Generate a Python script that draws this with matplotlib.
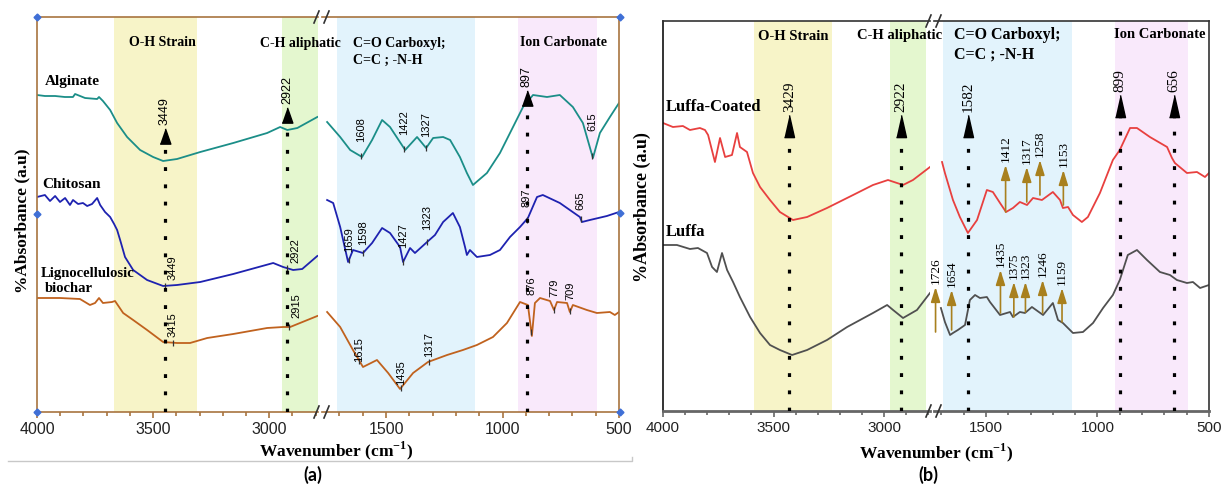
import numpy as np
import matplotlib
matplotlib.use("Agg")
import matplotlib.pyplot as plt
from matplotlib.ticker import MultipleLocator
from matplotlib.lines import Line2D

plt.rcParams["mathtext.fontset"] = "custom"
plt.rcParams["mathtext.rm"] = "Liberation Serif:bold"
plt.rcParams["mathtext.bf"] = "Liberation Serif:bold"

SERIF = "Liberation Serif"
SANS = "Liberation Sans"

W, H = 1222, 484

# ---------------- panel (a) : FTIR spectra ----------------
alg_hi_wn = [4000, 3966, 3922, 3880, 3845, 3836, 3793, 3741, 3733, 3716, 3685, 3655, 3612,
             3556, 3500, 3457, 3397, 3297, 3155, 3009, 2953, 2922, 2879, 2793]
alg_hi_ab = [3.17, 3.16, 3.16, 3.15, 3.15, 3.18, 3.14, 3.13, 3.15, 3.11, 3.02, 2.89, 2.75,
             2.62, 2.55, 2.51, 2.53, 2.60, 2.69, 2.79, 2.85, 2.82, 2.84, 2.95]
alg_lo_wn = [1753, 1697, 1654, 1603, 1560, 1517, 1483, 1418, 1367, 1328, 1298, 1255, 1225,
             1183, 1153, 1127, 1067, 1011, 955, 912, 869, 809, 754, 698, 655, 612, 582, 539, 500]
alg_lo_ab = [2.90, 2.75, 2.62, 2.55, 2.72, 2.92, 2.85, 2.62, 2.75, 2.64, 2.74, 2.75, 2.72,
             2.55, 2.39, 2.27, 2.39, 2.59, 2.85, 3.05, 3.17, 3.15, 3.17, 3.05, 2.89, 2.54, 2.79, 2.95, 3.09]

chi_hi_wn = [4000, 3966, 3944, 3922, 3901, 3879, 3858, 3845, 3823, 3802, 3784, 3763, 3741,
             3728, 3707, 3685, 3668, 3655, 3642, 3621, 3586, 3526, 3457, 3397, 3297, 3155,
             2983, 2940, 2897, 2858, 2793]
chi_hi_ab = [2.15, 2.17, 2.11, 2.16, 2.10, 2.14, 2.07, 2.12, 2.08, 2.09, 2.06, 2.08, 2.14,
             2.07, 2.00, 1.95, 1.88, 1.82, 1.72, 1.55, 1.42, 1.32, 1.26, 1.27, 1.30, 1.38,
             1.49, 1.45, 1.42, 1.43, 1.56]
chi_lo_wn = [1753, 1727, 1697, 1663, 1642, 1599, 1560, 1517, 1483, 1440, 1427, 1397, 1376,
             1324, 1290, 1255, 1213, 1183, 1161, 1153, 1140, 1110, 1054, 1011, 968, 925, 891,
             852, 827, 754, 668, 659, 625, 552, 500]
chi_lo_ab = [2.12, 2.09, 1.85, 1.50, 1.62, 1.59, 1.69, 1.84, 1.79, 1.65, 1.50, 1.64, 1.59,
             1.70, 1.77, 1.90, 1.99, 1.85, 1.65, 1.57, 1.62, 1.55, 1.57, 1.62, 1.75, 1.85, 1.94,
             2.15, 2.17, 2.09, 1.95, 1.90, 1.92, 1.96, 2.00]

bio_hi_wn = [4000, 3901, 3815, 3772, 3750, 3733, 3716, 3677, 3664, 3629, 3586, 3526, 3457,
             3397, 3341, 3267, 3155, 3009, 2940, 2910, 2793]
bio_hi_ab = [1.14, 1.14, 1.13, 1.07, 1.09, 1.14, 1.09, 1.10, 1.11, 0.99, 0.92, 0.82, 0.70,
             0.69, 0.69, 0.74, 0.78, 0.84, 0.85, 0.85, 0.96]
bio_lo_wn = [1753, 1697, 1642, 1599, 1539, 1491, 1440, 1384, 1320, 1238, 1170, 1110, 1041,
             981, 925, 891, 874, 861, 839, 796, 779, 766, 723, 711, 698, 638, 595, 539, 518, 500]
bio_lo_ab = [1.00, 0.85, 0.62, 0.45, 0.52, 0.39, 0.23, 0.39, 0.50, 0.57, 0.62, 0.67, 0.75,
             0.89, 1.10, 1.07, 0.76, 1.09, 1.14, 1.11, 1.02, 1.10, 1.09, 1.00, 1.07, 1.02, 0.99,
             1.00, 0.97, 1.00]

alg_pk_wn = [1608, 1422, 1327, 615]
alg_pk_lab = [2.70, 2.77, 2.75, 2.81]
chi_pk_wn = [3449, 2922, 1659, 1598, 1427, 1323, 897, 665]
chi_pk_lab = [1.32, 1.49, 1.60, 1.67, 1.64, 1.82, 2.05, 2.02]
bio_pk_wn = [3415, 2915, 1615, 1435, 1317, 876, 779, 709]
bio_pk_lab = [0.75, 0.94, 0.50, 0.27, 0.55, 1.17, 1.15, 1.12]

a_big_wn = [3449, 2922, 897]
a_big_tip = [2.84, 3.05, 3.22]

# ---------------- panel (b) : luffa spectra ----------------
lc_hi_wn = [4000, 3955, 3910, 3878, 3833, 3810, 3796, 3765, 3742, 3719, 3688, 3665, 3652,
            3620, 3593, 3561, 3516, 3471, 3412, 3348, 3258, 3140, 3050, 2982, 2914, 2869, 2792]
lc_hi_ab = [2.88, 2.84, 2.85, 2.81, 2.83, 2.81, 2.76, 2.49, 2.73, 2.54, 2.56, 2.78, 2.64,
            2.59, 2.38, 2.24, 2.11, 1.99, 1.91, 1.94, 2.03, 2.16, 2.26, 2.31, 2.26, 2.31, 2.44]
lc_lo_wn = [1697, 1684, 1648, 1617, 1581, 1540, 1496, 1469, 1437, 1410, 1379, 1348, 1316,
            1289, 1249, 1200, 1168, 1155, 1132, 1110, 1070, 1043, 989, 931, 900, 854, 823,
            765, 688, 666, 653, 599, 554, 518, 500]
lc_lo_ab = [2.49, 2.38, 2.11, 1.94, 1.78, 1.91, 2.21, 2.19, 2.08, 1.99, 2.03, 2.09, 2.06,
            2.13, 2.11, 2.19, 2.11, 2.03, 2.04, 1.96, 1.89, 1.94, 2.18, 2.51, 2.61, 2.83, 2.83,
            2.74, 2.64, 2.53, 2.48, 2.38, 2.39, 2.34, 2.38]

lf_hi_wn = [4000, 3937, 3878, 3842, 3801, 3778, 3756, 3733, 3710, 3683, 3652, 3606, 3561,
            3516, 3471, 3416, 3348, 3258, 3167, 3050, 2986, 2959, 2914, 2851, 2792]
lf_hi_ab = [1.66, 1.66, 1.62, 1.63, 1.58, 1.44, 1.39, 1.58, 1.41, 1.29, 1.14, 0.94, 0.78,
            0.66, 0.61, 0.56, 0.61, 0.71, 0.84, 0.98, 1.06, 1.01, 0.93, 1.01, 1.18]
lf_lo_wn = [1702, 1684, 1661, 1648, 1626, 1594, 1572, 1549, 1527, 1496, 1482, 1437, 1392,
            1379, 1348, 1325, 1294, 1244, 1200, 1177, 1155, 1110, 1065, 1020, 975, 931, 900,
            864, 823, 778, 720, 675, 644, 599, 572, 540, 500]
lf_lo_ab = [1.03, 0.89, 0.76, 0.78, 0.81, 0.86, 1.11, 1.16, 1.13, 1.14, 1.09, 0.96, 0.99,
            0.94, 0.99, 0.98, 1.04, 0.96, 1.08, 0.91, 0.88, 0.78, 0.79, 0.88, 1.03, 1.16, 1.31,
            1.56, 1.61, 1.51, 1.39, 1.36, 1.31, 1.28, 1.29, 1.23, 1.26]

b_big_wn = [3429, 2922, 1582, 899, 656]
b_big_tip = [2.96, 2.96, 2.96, 3.16, 3.16]

lc_arr_wn = [1412, 1317, 1258, 1153]
lc_arr_base = [1.99, 2.09, 2.16, 2.06]
lc_arr_tip = [2.46, 2.44, 2.51, 2.41]
lf_arr_wn = [1726, 1654, 1435, 1375, 1323, 1246, 1159]
lf_arr_base = [0.79, 0.81, 0.98, 0.94, 0.99, 0.98, 0.89]
lf_arr_tip = [1.24, 1.21, 1.41, 1.29, 1.29, 1.31, 1.23]

YELLOW, GREEN, BLUE, PINK = "#F7F4C8", "#E4F7CF", "#E2F3FC", "#F9E9FB"
a_bands_hi = [(3668, 3310, YELLOW), (2944, 2700, GREEN)]
a_bands_lo = [(1710, 1118, BLUE), (934, 595, PINK)]
b_bands_hi = [(3588, 3235, YELLOW), (2973, 2810, GREEN)]
b_bands_lo = [(1693, 1114, BLUE), (922, 594, PINK)]


def fx(px):
    return px / W


def fy(py):
    return 1 - py / H


fig = plt.figure(figsize=(W / 100, H / 100), dpi=100)


def seg_axes(x0, x1, ytop, ybot, xlim, ylim, ticks, side, scol, lblsize):
    ax = fig.add_axes([fx(x0), fy(ybot), (x1 - x0) / W, (ybot - ytop) / H])
    ax.set_xlim(*xlim)
    ax.set_ylim(*ylim)
    ax.set_yticks([])
    ax.set_xticks(ticks)
    ax.xaxis.set_minor_locator(MultipleLocator(100))
    ax.tick_params(axis="x", which="major", direction="out", length=4, width=1.2,
                   color=scol, labelsize=lblsize, labelcolor="#222", pad=3)
    ax.tick_params(axis="x", which="minor", direction="out", length=3, width=1.2, color=scol)
    for lb in ax.get_xticklabels():
        lb.set_fontfamily(SANS)
    for s in ax.spines.values():
        s.set_color(scol)
        s.set_linewidth(1.2)
    ax.spines["right" if side == "left" else "left"].set_visible(False)
    return ax


def at(wn, xs, ys):
    return np.interp(wn, xs[::-1], ys[::-1])


def fig_line(xs, ys, **kw):
    fig.add_artist(Line2D([fx(v) for v in xs], [fy(v) for v in ys],
                          transform=fig.transFigure, **kw))


def big_marker(ax, wn, tip, h, verts, ms, fam, size):
    ax.plot([wn, wn], [0, tip - h], color="k", lw=2.3, ls=(0, (1.2, 4.2)), zorder=4,
            solid_capstyle="butt")
    ax.plot([wn], [tip - h / 2], marker=verts, ms=ms, color="k", ls="none", zorder=5)
    ax.text(wn, tip + 0.03, str(wn), rotation=90, ha="center", va="bottom",
            family=fam, fontsize=size, zorder=6)


# ----- panel (a)
ACOL = "#A8743F"
a_hi = seg_axes(37, 318, 17, 412, (4000, 2790), (0, 3.95), [4000, 3500, 3000], "left", ACOL, 11.5)
a_lo = seg_axes(322, 619, 17, 412, (1775, 500), (0, 3.95), [1500, 1000, 500], "right", ACOL, 11.5)

for x0, x1, c in a_bands_hi:
    a_hi.axvspan(x0, x1, color=c, lw=0, zorder=0)
for x0, x1, c in a_bands_lo:
    a_lo.axvspan(x0, x1, color=c, lw=0, zorder=0)

series_a = [
    (alg_hi_wn, alg_hi_ab, alg_lo_wn, alg_lo_ab, "#1B8E88", alg_pk_wn, alg_pk_lab),
    (chi_hi_wn, chi_hi_ab, chi_lo_wn, chi_lo_ab, "#1E22B0", chi_pk_wn, chi_pk_lab),
    (bio_hi_wn, bio_hi_ab, bio_lo_wn, bio_lo_ab, "#C0621E", bio_pk_wn, bio_pk_lab),
]
# labels that sit beside the dotted marker lines
side_lab = {3449, 2922, 2915}
for i, (hx, hy, lx, ly, col, pw, pl) in enumerate(series_a):
    a_hi.plot(hx, hy, color=col, lw=1.3, zorder=2)
    a_lo.plot(lx, ly, color=col, lw=1.3, zorder=2)
    for wn, lab in zip(pw, pl):
        if wn > 2000:
            ax, xs, ys = a_hi, hx, hy
        else:
            ax, xs, ys = a_lo, lx, ly
        ax.plot([wn], [at(wn, xs, ys)], marker="|", ms=5, mew=0.9, color="#333", zorder=3)
        beside = i > 0 and wn in side_lab
        ax.annotate(str(wn), (wn, lab), xytext=(2 if beside else 0, 0),
                    textcoords="offset points", rotation=90, family=SANS, fontsize=8,
                    ha="left" if beside else "center", va="bottom", zorder=6)

tri_a = [(-0.7, -1), (0.7, -1), (0, 1)]
for wn, tip in zip(a_big_wn, a_big_tip):
    big_marker(a_hi if wn > 2000 else a_lo, wn, tip, 0.15, tri_a, 11, SANS, 9)

# ----- panel (b)
BCOL = "#333333"
b_hi = seg_axes(663, 930, 21, 411, (4000, 2792), (0, 3.90), [4000, 3500, 3000], "left", BCOL, 11)
b_lo = seg_axes(934, 1209, 21, 411, (1733, 500), (0, 3.90), [1500, 1000, 500], "right", BCOL, 11)
for ax in (b_hi, b_lo):
    ax.spines["bottom"].set_color("#666")
    ax.spines["bottom"].set_linewidth(2)
    ax.tick_params(axis="x", which="both", color="#666")
b_hi.spines["left"].set_color("#111")

for x0, x1, c in b_bands_hi:
    b_hi.axvspan(x0, x1, color=c, lw=0, zorder=0)
for x0, x1, c in b_bands_lo:
    b_lo.axvspan(x0, x1, color=c, lw=0, zorder=0)

b_hi.plot(lc_hi_wn, lc_hi_ab, color="#E8403F", lw=1.3, zorder=2)
b_lo.plot(lc_lo_wn, lc_lo_ab, color="#E8403F", lw=1.3, zorder=2)
b_hi.plot(lf_hi_wn, lf_hi_ab, color="#505050", lw=1.3, zorder=2)
b_lo.plot(lf_lo_wn, lf_lo_ab, color="#505050", lw=1.3, zorder=2)

tri_b = [(-0.45, -1), (0.45, -1), (0, 1)]
for wn, tip in zip(b_big_wn, b_big_tip):
    big_marker(b_hi if wn > 2000 else b_lo, wn, tip, 0.22, tri_b, 16, SERIF, 11)

GOLD = "#A8801E"
for wns, bases, tips in ((lc_arr_wn, lc_arr_base, lc_arr_tip), (lf_arr_wn, lf_arr_base, lf_arr_tip)):
    for wn, b0, t0 in zip(wns, bases, tips):
        b_lo.annotate("", xy=(wn, t0), xytext=(wn, b0),
                      arrowprops=dict(arrowstyle="-|>,head_width=0.28,head_length=0.9",
                                      color=GOLD, lw=1.2, shrinkA=0, shrinkB=0), zorder=5)
        b_lo.text(wn, t0 + 0.03, str(wn), rotation=90, ha="center", va="bottom",
                  family=SERIF, fontsize=9.5, zorder=6)

# ----- break marks
for xb, yt, yb, col in ((318, 17, 412, "#333"), (930, 21, 411, "#333")):
    for y in (yt, yb):
        fig_line([xb - 4, xb + 1], [y + 6, y - 6], color=col, lw=1.2)
        fig_line([xb + 6, xb + 11], [y + 6, y - 6], color=col, lw=1.2)

# selection handles on panel (a)
fig.add_artist(Line2D([fx(v) for v in (37, 620, 37, 620, 37, 620)],
                      [fy(v) for v in (17, 17, 214, 213, 412, 412)],
                      transform=fig.transFigure, marker="D", ms=3.5, ls="none", color="#3F6FD6"))

# ----- texts
BOLD = dict(family=SERIF, fontweight="bold")
fig.text(fx(162), fy(43), "O-H Strain", ha="center", va="center", fontsize=10, **BOLD)
fig.text(fx(300), fy(43), "C-H aliphatic", ha="center", va="center", fontsize=10, **BOLD)
fig.text(fx(353), fy(52), "C=O Carboxyl;\nC=C ; -N-H", ha="left", va="center", fontsize=10,
         linespacing=1.35, **BOLD)
fig.text(fx(564), fy(43), "Ion Carbonate", ha="center", va="center", fontsize=10, **BOLD)

fig.text(fx(793), fy(36), "O-H Strain", ha="center", va="center", fontsize=10.5, **BOLD)
fig.text(fx(900), fy(36), "C-H aliphatic", ha="center", va="center", fontsize=10.5, **BOLD)
fig.text(fx(954), fy(45), "C=O Carboxyl;\nC=C ; -N-H", ha="left", va="center", fontsize=11.5,
         linespacing=1.3, **BOLD)
fig.text(fx(1160), fy(34), "Ion Carbonate", ha="center", va="center", fontsize=10.5, **BOLD)

fig.text(fx(45), fy(82), "Alginate", ha="left", va="center", fontsize=11, **BOLD)
fig.text(fx(42), fy(185), "Chitosan", ha="left", va="center", fontsize=11, **BOLD)
fig.text(fx(41), fy(273), "Lignocellulosic", ha="left", va="center", fontsize=10.5, **BOLD)
fig.text(fx(45), fy(289), "biochar", ha="left", va="center", fontsize=10.5, **BOLD)
fig.text(fx(666), fy(107), "Luffa-Coated", ha="left", va="center", fontsize=12, **BOLD)
fig.text(fx(666), fy(232), "Luffa", ha="left", va="center", fontsize=12, **BOLD)

fig.text(fx(22), fy(221), "%Absorbance (a.u)", rotation=90, ha="center", va="center",
         fontsize=12.5, **BOLD)
fig.text(fx(642), fy(207), "%Absorbance (a.u)", rotation=90, ha="center", va="center",
         fontsize=13, **BOLD)

fig.text(fx(336), fy(451), r"Wavenumber (cm$^{-1}$)", ha="center", va="center", fontsize=12.5, **BOLD)
fig.text(fx(936), fy(453), r"Wavenumber (cm$^{-1}$)", ha="center", va="center", fontsize=12.5, **BOLD)

fig.text(fx(313), fy(475), "(a)", ha="center", va="center", family="Lato", fontweight="bold",
         fontsize=13)
fig.text(fx(928), fy(475), "(b)", ha="center", va="center", family="Lato", fontweight="bold",
         fontsize=13)
fig_line([8, 632, 632], [461, 461, 457], color="#C8C8C8", lw=1)

fig.savefig("out.png", dpi=100)
